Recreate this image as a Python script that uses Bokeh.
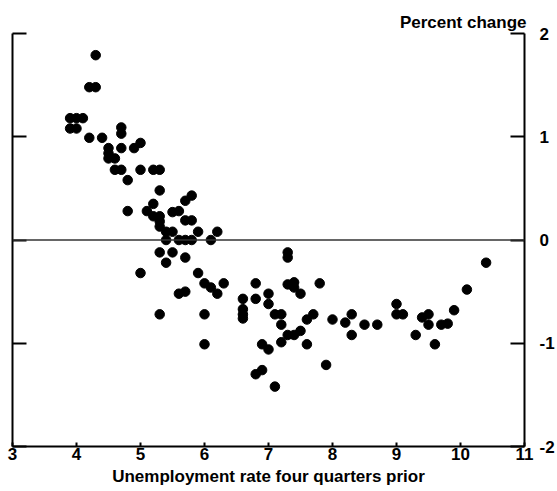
from bokeh.plotting import figure
from bokeh.models import Range1d, LinearAxis, FixedTicker, Span, Title, CustomJSTickFormatter
from bokeh.embed import file_html
from bokeh.resources import INLINE

# Unemployment rate four quarters prior (x) and percent change (y)
unemp = [4.3, 4.2, 4.3, 3.9, 4.0, 4.1, 3.9, 4.0, 4.2, 4.4,
         4.7, 4.7, 4.5, 4.5, 4.5, 4.6, 4.7, 4.9, 5.0, 4.6,
         4.7, 5.0, 5.2, 5.3, 4.8, 5.3, 5.7, 5.8, 5.2, 4.8,
         5.1, 5.2, 5.3, 5.3, 5.3, 5.4, 5.5, 5.5, 5.6, 5.7,
         5.8, 5.9, 6.2, 5.4, 5.6, 5.7, 5.8, 6.1, 5.3, 5.5,
         5.4, 5.7, 5.0, 5.9, 6.0, 6.1, 6.2, 6.3, 5.6, 5.7,
         5.3, 6.0, 6.0, 6.6, 6.6, 6.6, 6.6, 6.8, 6.8, 7.0,
         7.0, 7.3, 7.3, 7.3, 7.4, 7.4, 7.5, 7.8, 7.1, 7.2,
         7.2, 7.3, 7.4, 7.5, 7.6, 7.7, 8.0, 8.2, 6.9, 7.0,
         7.2, 7.6, 7.9, 6.8, 6.9, 7.1, 8.3, 8.3, 8.5, 8.7,
         9.0, 9.0, 9.1, 9.3, 9.4, 9.5, 9.5, 9.6, 9.7, 9.8,
         9.9, 10.1, 10.4]
change = [1.79, 1.48, 1.48, 1.18, 1.18, 1.18, 1.08, 1.08, 0.99, 0.99,
          1.09, 1.03, 0.89, 0.84, 0.79, 0.79, 0.89, 0.89, 0.94, 0.68,
          0.68, 0.68, 0.68, 0.68, 0.58, 0.48, 0.38, 0.43, 0.35, 0.28,
          0.28, 0.23, 0.23, 0.18, 0.13, 0.08, 0.08, 0.27, 0.28, 0.19,
          0.19, 0.08, 0.08, 0.0, 0.0, 0.0, 0.0, 0.0, -0.12, -0.12,
          -0.22, -0.17, -0.32, -0.32, -0.42, -0.46, -0.52, -0.42, -0.52, -0.50,
          -0.72, -0.72, -1.01, -0.57, -0.67, -0.72, -0.76, -0.42, -0.57, -0.52,
          -0.62, -0.12, -0.17, -0.43, -0.41, -0.46, -0.52, -0.42, -0.72, -0.72,
          -0.82, -0.92, -0.92, -0.88, -0.77, -0.72, -0.77, -0.80, -1.01, -1.06,
          -0.99, -1.01, -1.21, -1.30, -1.26, -1.42, -0.72, -0.92, -0.82, -0.82,
          -0.62, -0.72, -0.72, -0.92, -0.75, -0.72, -0.82, -1.01, -0.82, -0.81,
          -0.68, -0.48, -0.22]

x_ticks = [3, 4, 5, 6, 7, 8, 9, 10, 11]
y_ticks = [-2, -1, 0, 1, 2]
y_tick_labels = ["-2", "-1", "0", "1", "2"]
x_title = "Unemployment rate four quarters prior"
y_title = "Percent change"

FONT = "Liberation Sans"

p = figure(width=557, height=491, output_backend="svg", toolbar_location=None,
           x_range=Range1d(3, 11), y_range=Range1d(-2, 2),
           x_axis_location="below", y_axis_location="right")
p.min_border_left = 12
p.min_border_right = 30
p.min_border_top = 33
p.min_border_bottom = 45
p.outline_line_color = None
p.background_fill_color = "white"
p.border_fill_color = "white"
p.xgrid.visible = False
p.ygrid.visible = False

title = Title(text=y_title, align="right", text_font=FONT, text_font_size="17px",
              text_font_style="bold", text_color="black", standoff=4, offset=-2)
p.add_layout(title, "above")

# bottom axis
xa = p.xaxis[0]
xa.ticker = FixedTicker(ticks=x_ticks)
xa.axis_label = x_title
xa.axis_label_text_font = FONT
xa.axis_label_text_font_size = "17px"
xa.axis_label_text_font_style = "bold"
xa.axis_label_text_color = "black"
xa.axis_label_standoff = 4
xa.major_label_text_font = FONT
xa.major_label_text_font_size = "17px"
xa.major_label_text_font_style = "bold"
xa.major_label_text_color = "black"
xa.major_label_standoff = 1
xa.major_tick_in = 4
xa.major_tick_out = 0
xa.minor_tick_line_color = None
xa.axis_line_width = 2
xa.major_tick_line_width = 2
xa.axis_line_color = "black"
xa.major_tick_line_color = "black"

# right axis
ya = p.yaxis[0]
ya.ticker = FixedTicker(ticks=y_ticks)
ya.major_label_overrides = dict(zip(y_ticks, y_tick_labels))
ya.major_label_text_font = FONT
ya.major_label_text_font_size = "17px"
ya.major_label_text_font_style = "bold"
ya.major_label_text_color = "black"
ya.major_label_text_align = "right"
ya.major_label_standoff = 15
ya.major_tick_in = 14
ya.major_tick_out = 0
ya.minor_tick_line_color = None
ya.axis_line_width = 2
ya.major_tick_line_width = 2
ya.axis_line_color = "black"
ya.major_tick_line_color = "black"

# left axis: ticks only
la = LinearAxis(ticker=FixedTicker(ticks=y_ticks),
                formatter=CustomJSTickFormatter(code="return ''"))
la.major_label_standoff = 0
la.major_tick_in = 14
la.major_tick_out = 0
la.minor_tick_line_color = None
la.axis_line_width = 2
la.major_tick_line_width = 2
la.axis_line_color = "black"
la.major_tick_line_color = "black"
p.add_layout(la, "left")

p.add_layout(Span(location=0, dimension="width", line_color="#333333", line_width=1.5))

p.scatter(unemp, change, size=9.5, fill_color="black", line_color="black")

open("out.html", "w").write(file_html(p, INLINE))
